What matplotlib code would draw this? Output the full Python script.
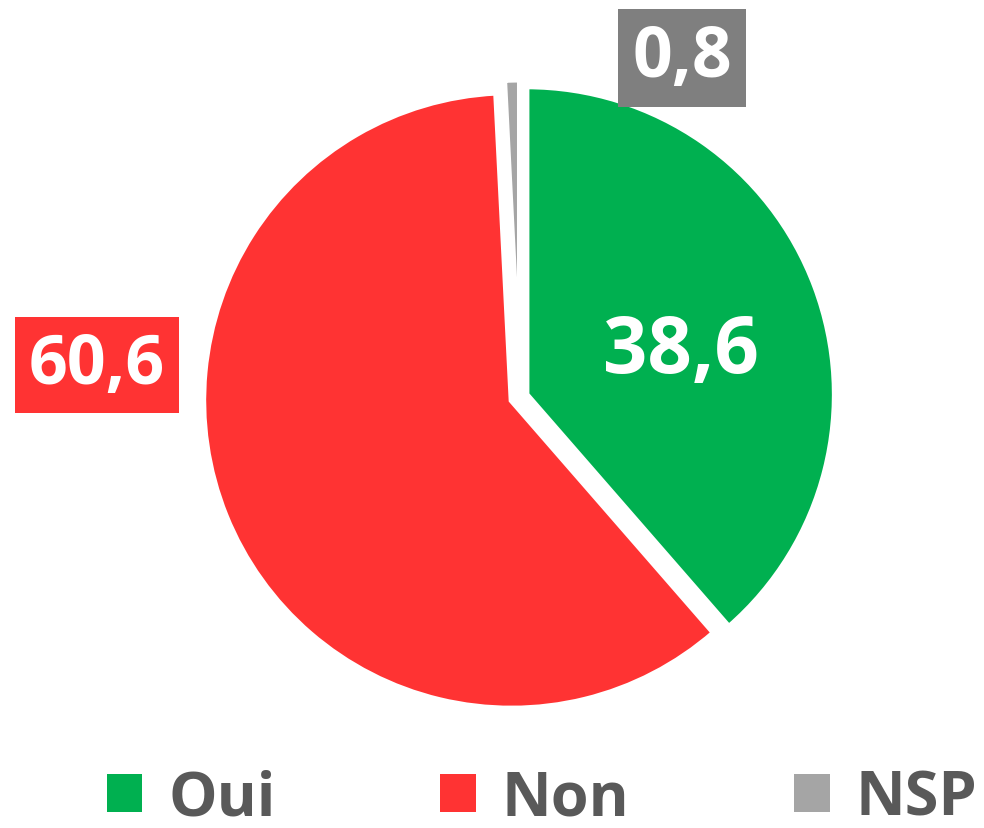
import matplotlib.pyplot as plt
from matplotlib.patches import Patch

# Data
labels = ['Oui', 'Non', 'NSP']
values = [38.6, 60.6, 0.8]
value_text = ['38,6', '60,6', '0,8']

colors = ['#00B050', '#FF3333', '#A5A5A5']
box_colors = [None, '#FF3333', '#7F7F7F']
explode = [0.023, 0.03, 0.03]

W, H = 984, 829
fig = plt.figure(figsize=(W / 100, H / 100), dpi=100)
ax = fig.add_axes([0, 0, 1, 1])

# pie centre and radius in pixels
cx, cy, r = 520, 398, 308

ax.pie(values, colors=colors, startangle=90, counterclock=False,
       explode=explode, radius=1,
       wedgeprops=dict(edgecolor='white', linewidth=4))

ax.set_xlim(-cx / r, (W - cx) / r)
ax.set_ylim(-(H - cy) / r, cy / r)
ax.set_aspect('equal')
ax.axis('off')


def px(x, y):
    # pixel position (from top-left) -> data coords
    return (x - cx) / r, (cy - y) / r


font = 'Open Sans'

# value labels
ax.text(*px(681, 353), value_text[0], color='white', fontsize=56,
        fontweight='bold', family=font, ha='center', va='center')
ax.text(*px(97, 366), value_text[1], color='white', fontsize=49,
        fontweight='bold', family=font, ha='center', va='center',
        bbox=dict(boxstyle='square,pad=0.2', fc=box_colors[1], ec='none'))
ax.text(*px(682, 59), value_text[2], color='white', fontsize=50,
        fontweight='bold', family=font, ha='center', va='center',
        bbox=dict(boxstyle='square,pad=0.2', fc=box_colors[2], ec='none'))

# legend
handles = [Patch(facecolor=c, edgecolor='none') for c in colors]
leg = ax.legend(handles, labels, ncol=3, frameon=False, loc='center',
                bbox_to_anchor=(542 / W, 1 - 800 / H),
                bbox_transform=fig.transFigure,
                prop=dict(family=font, weight='bold', size=44),
                handlelength=0.58, handleheight=0.58, handletextpad=0.42,
                columnspacing=2.7, borderpad=0)
for t in leg.get_texts():
    t.set_color('#595959')

fig.savefig('out.png', dpi=100)
